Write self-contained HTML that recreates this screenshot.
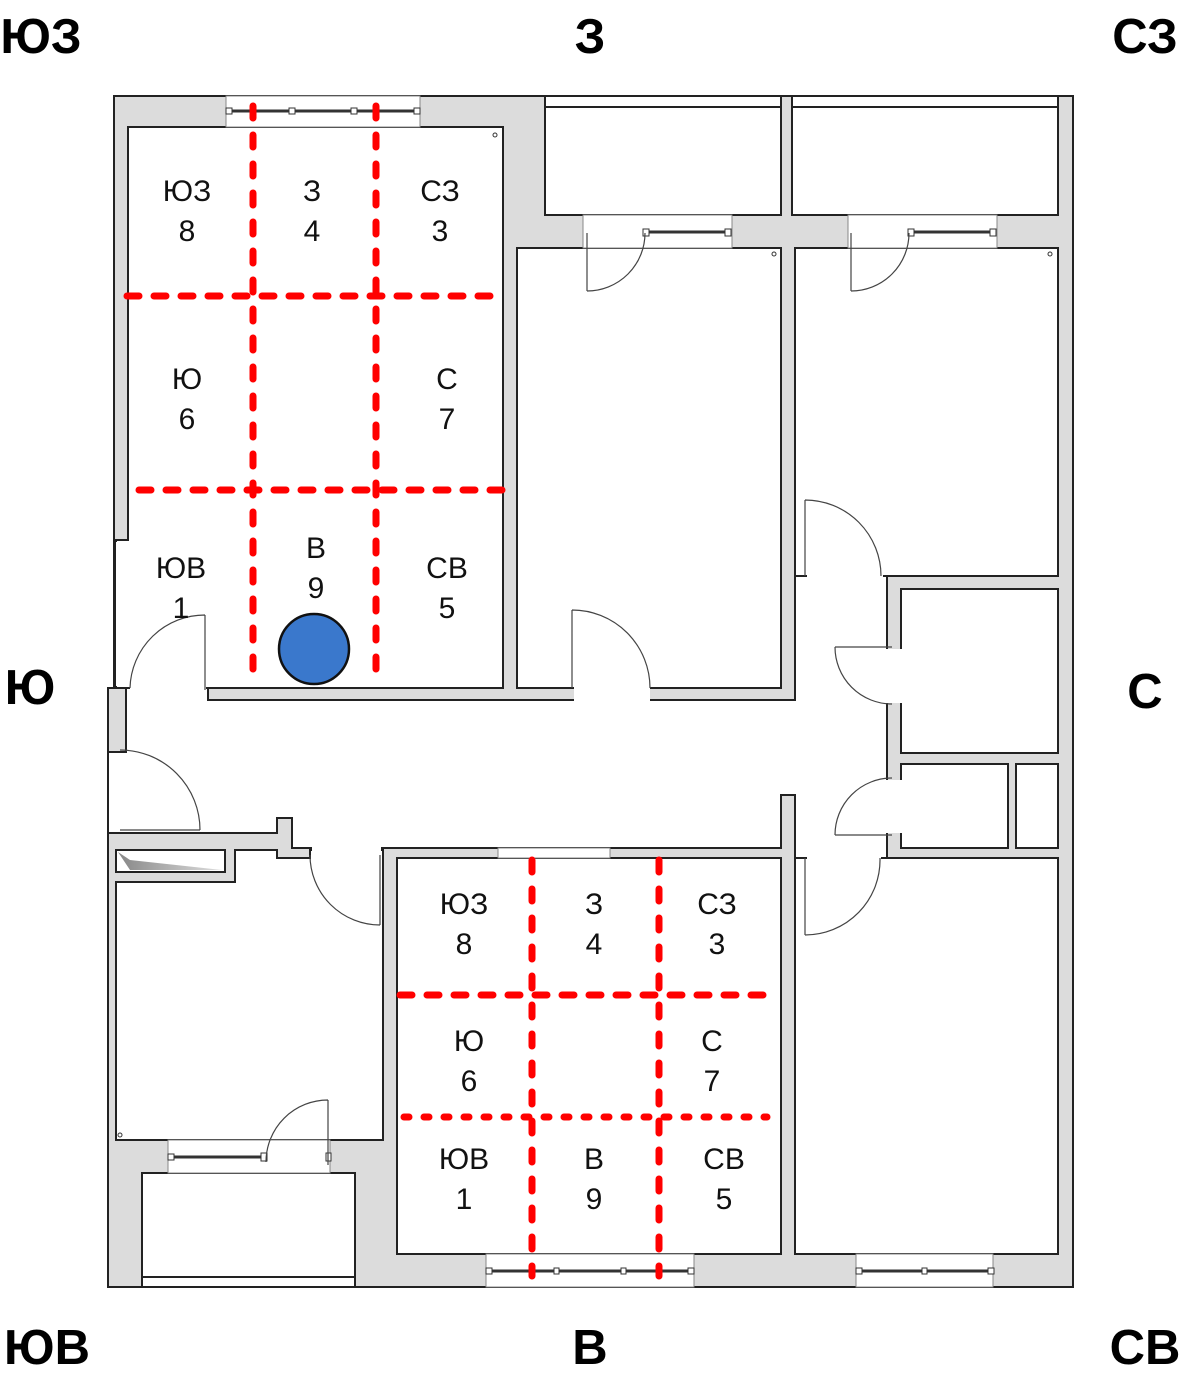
<!DOCTYPE html>
<html><head><meta charset="utf-8"><style>
html,body{margin:0;padding:0;background:#fff;}
svg{display:block;}
text{font-family:"Liberation Sans",Arial,sans-serif;}
</style></head><body>
<svg width="1181" height="1378" viewBox="0 0 1181 1378" xmlns="http://www.w3.org/2000/svg">
<defs>
<linearGradient id="sh" x1="0" y1="0" x2="1" y2="0"><stop offset="0" stop-color="#888"/><stop offset="1" stop-color="#ddd"/></linearGradient>
</defs>
<!-- building walls -->
<path d="M114 96 H1073 V1287 H108 V688 H114 Z" fill="#dcdcdc" stroke="#222" stroke-width="2"/>
<g fill="#fff" stroke="#222" stroke-width="2">
<path d="M128 127 H503 V688 H116 V540 H128 Z"/>
<rect x="545" y="96" width="236" height="119"/>
<rect x="792" y="96" width="266" height="119"/>
<rect x="517" y="248" width="264" height="440"/>
<rect x="795" y="248" width="263" height="328"/>
<polygon points="126,688 208,688 208,700 795,700 795,576 887,576 887,858 795,858 795,795 781,795 781,848 292,848 292,818 277,818 277,833 108,833 108,752 126,752"/>
<rect x="901" y="589" width="157" height="164"/>
<rect x="901" y="764" width="107" height="84"/>
<rect x="1016" y="764" width="42" height="84"/>
<rect x="795" y="858" width="263" height="396"/>
<rect x="397" y="858" width="384" height="396"/>
<path d="M116 882 H235 V850 H277 V858 H310 V850 H383 V1140 H116 Z"/>
<rect x="142" y="1173" width="213" height="114"/>
</g>
<!-- erasers for openings -->
<g fill="#fff">
<rect x="130" y="684" width="76" height="8"/>
<rect x="574" y="684" width="76" height="20"/>
<rect x="807" y="572" width="76" height="8"/>
<rect x="807" y="854" width="74" height="8"/>
<rect x="884" y="649" width="20" height="54"/>
<rect x="884" y="780" width="20" height="53"/>
<rect x="312" y="845" width="69" height="10"/>
<rect x="116" y="542" width="14" height="144"/>
</g>
<!-- shelf -->
<rect x="116" y="850" width="109" height="22" fill="#fff" stroke="#222" stroke-width="2"/>
<polygon points="118,852 130,870 222,870 130,860 118,852" fill="url(#sh)"/>
<!-- windows / gaps -->
<g fill="#fff" stroke="#888" stroke-width="1">
<rect x="226" y="96" width="194" height="31"/>
<rect x="583" y="215" width="149" height="33"/>
<rect x="848" y="215" width="149" height="33"/>
<rect x="498" y="848" width="112" height="10"/>
<rect x="168" y="1140" width="162" height="33"/>
<rect x="486" y="1254" width="208" height="33"/>
<rect x="856" y="1254" width="137" height="33"/>
</g>
<g stroke="#222" stroke-width="2">
<line x1="545" y1="107" x2="781" y2="107"/>
<line x1="792" y1="107" x2="1058" y2="107"/>
<line x1="142" y1="1277" x2="355" y2="1277"/>
</g>
<g stroke="#333" stroke-width="3">
<line x1="228" y1="111" x2="418" y2="111"/>
<line x1="645" y1="232" x2="730" y2="232"/>
<line x1="910" y1="232" x2="995" y2="232"/>
<line x1="170" y1="1157" x2="265" y2="1157"/>
<line x1="488" y1="1271" x2="692" y2="1271"/>
<line x1="858" y1="1271" x2="991" y2="1271"/>
</g>
<g fill="#fff" stroke="#333" stroke-width="1">
<rect x="226" y="108" width="6" height="6"/><rect x="289" y="108" width="6" height="6"/><rect x="351" y="108" width="6" height="6"/><rect x="414" y="108" width="6" height="6"/>
<rect x="643" y="229" width="6" height="7"/><rect x="725" y="229" width="6" height="7"/>
<rect x="908" y="229" width="6" height="7"/><rect x="990" y="229" width="6" height="7"/>
<rect x="168" y="1154" width="6" height="6"/><rect x="261" y="1153" width="6" height="8"/><rect x="326" y="1153" width="5" height="8"/>
<rect x="486" y="1268" width="6" height="6"/><rect x="554" y="1268" width="5" height="6"/><rect x="621" y="1268" width="5" height="6"/><rect x="688" y="1268" width="6" height="6"/>
<rect x="856" y="1268" width="6" height="6"/><rect x="922" y="1268" width="5" height="6"/><rect x="988" y="1268" width="6" height="6"/>
<circle cx="495" cy="135" r="2"/><circle cx="774" cy="254" r="2"/><circle cx="1050" cy="254" r="2"/><circle cx="120" cy="1135" r="2"/>
</g>
<!-- doors -->
<g fill="none" stroke="#444" stroke-width="1.2">
<path d="M205 615 V690 M130 688 A75 75 0 0 1 205 615"/>
<path d="M572 610 V688 M572 610 A78 78 0 0 1 650 688"/>
<path d="M120 830 H200 M120 750 A80 80 0 0 1 200 830"/>
<path d="M380 855 V925 M310 855 A70 70 0 0 0 380 925"/>
<path d="M587 233 V291 M587 291 A58 58 0 0 0 645 233"/>
<path d="M851 233 V291 M851 291 A58 58 0 0 0 909 233"/>
<path d="M805 500 V576 M805 500 A76 76 0 0 1 881 576"/>
<path d="M835 647 H892 M835 647 A57 57 0 0 0 892 704"/>
<path d="M835 835 H892 M835 835 A57 57 0 0 1 892 778"/>
<path d="M805 858 V935 M880 858 A75 75 0 0 1 805 935"/>
<path d="M328 1100 V1165 M328 1100 A62 62 0 0 0 266 1162"/>
</g>
<!-- red dashed grids -->
<g stroke="#f00" stroke-width="7" stroke-linecap="round" fill="none">
<line x1="253" y1="106" x2="253" y2="686" stroke-dasharray="12 17"/>
<line x1="376" y1="106" x2="376" y2="686" stroke-dasharray="12 17"/>
<line x1="127" y1="296" x2="492" y2="296" stroke-dasharray="12 15"/>
<line x1="139" y1="490" x2="502" y2="490" stroke-dasharray="12 15"/>
<line x1="532" y1="860" x2="532" y2="1276" stroke-dasharray="12 17"/>
<line x1="659" y1="860" x2="659" y2="1276" stroke-dasharray="12 17"/>
<line x1="400" y1="995" x2="764" y2="995" stroke-dasharray="12 15"/>
<line x1="404" y1="1117" x2="767" y2="1117" stroke-dasharray="5 15"/>
</g>
<circle cx="314" cy="649" r="35" fill="#3a78cc" stroke="#111" stroke-width="2.5"/>
<!-- labels -->
<g font-size="30" text-anchor="middle" fill="#111">
<text x="187" y="201">ЮЗ</text><text x="187" y="241">8</text>
<text x="312" y="201">З</text><text x="312" y="241">4</text>
<text x="440" y="201">СЗ</text><text x="440" y="241">3</text>
<text x="187" y="389">Ю</text><text x="187" y="429">6</text>
<text x="447" y="389">С</text><text x="447" y="429">7</text>
<text x="316" y="558">В</text><text x="316" y="598">9</text>
<text x="181" y="578">ЮВ</text><text x="181" y="618">1</text>
<text x="447" y="578">СВ</text><text x="447" y="618">5</text>
<text x="464" y="914">ЮЗ</text><text x="464" y="954">8</text>
<text x="594" y="914">З</text><text x="594" y="954">4</text>
<text x="717" y="914">СЗ</text><text x="717" y="954">3</text>
<text x="469" y="1051">Ю</text><text x="469" y="1091">6</text>
<text x="712" y="1051">С</text><text x="712" y="1091">7</text>
<text x="464" y="1169">ЮВ</text><text x="464" y="1209">1</text>
<text x="594" y="1169">В</text><text x="594" y="1209">9</text>
<text x="724" y="1169">СВ</text><text x="724" y="1209">5</text>
</g>
<g font-size="49" font-weight="bold" text-anchor="middle" fill="#000">
<text x="41" y="53">ЮЗ</text>
<text x="590" y="53">З</text>
<text x="1145" y="53">СЗ</text>
<text x="30" y="704">Ю</text>
<text x="1145" y="708">С</text>
<text x="47" y="1364">ЮВ</text>
<text x="590" y="1364">В</text>
<text x="1145" y="1364">СВ</text>
</g>
</svg>
</body></html>
